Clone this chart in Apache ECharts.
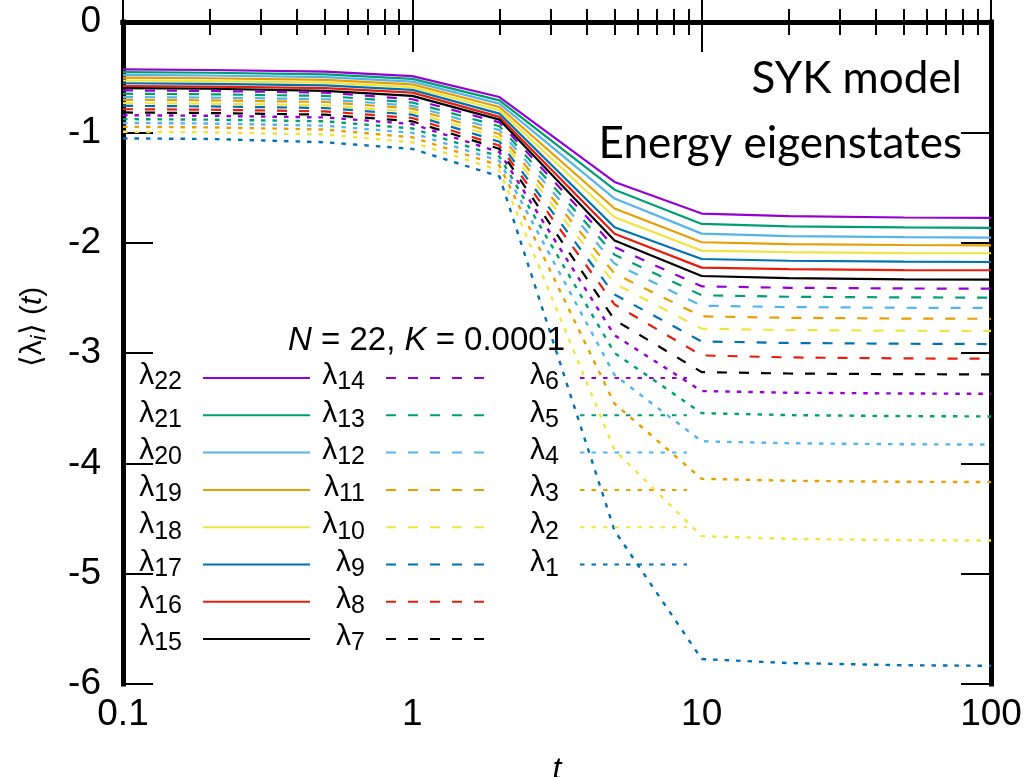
<!DOCTYPE html>
<html>
<head>
<meta charset="utf-8">
<title>SYK model – Lyapunov spectrum</title>
<script src="https://cdn.jsdelivr.net/npm/echarts@6/dist/echarts.min.js"></script>
<style>
  html, body { margin: 0; padding: 0; background: #ffffff; }
  #chart { width: 1029px; height: 777px; }
</style>
</head>
<body>
<div id="chart"></div>
<script>
// Sampling times of the averaged exponents <lambda_i>(t)
const times = [0.1, 0.2, 0.5, 1, 2, 5, 10, 20, 50, 100];

// Largest eight exponents (solid)
const lam22 = [-0.43, -0.435, -0.45, -0.49, -0.68, -1.45, -1.736, -1.760, -1.772, -1.776];
const lam21 = [-0.455, -0.46, -0.475, -0.515, -0.71, -1.52, -1.830, -1.852, -1.862, -1.866];
const lam20 = [-0.48, -0.485, -0.50, -0.54, -0.74, -1.60, -1.918, -1.940, -1.950, -1.954];
const lam19 = [-0.505, -0.51, -0.525, -0.565, -0.77, -1.69, -1.996, -2.013, -2.021, -2.024];
const lam18 = [-0.53, -0.535, -0.55, -0.59, -0.80, -1.77, -2.072, -2.086, -2.094, -2.096];
const lam17 = [-0.555, -0.56, -0.575, -0.615, -0.83, -1.86, -2.148, -2.164, -2.172, -2.175];
const lam16 = [-0.58, -0.585, -0.60, -0.64, -0.86, -1.92, -2.226, -2.240, -2.248, -2.250];
const lam15 = [-0.60, -0.605, -0.625, -0.67, -0.885, -1.98, -2.302, -2.322, -2.332, -2.335];
// Middle eight (dashed)
const lam14 = [-0.62, -0.625, -0.64, -0.70, -0.91, -2.04, -2.396, -2.409, -2.415, -2.417];
const lam13 = [-0.65, -0.655, -0.67, -0.73, -0.945, -2.11, -2.477, -2.490, -2.496, -2.498];
const lam12 = [-0.68, -0.685, -0.70, -0.76, -0.98, -2.19, -2.571, -2.584, -2.590, -2.592];
const lam11 = [-0.705, -0.71, -0.725, -0.785, -1.015, -2.28, -2.668, -2.681, -2.688, -2.690];
const lam10 = [-0.735, -0.74, -0.755, -0.815, -1.05, -2.37, -2.780, -2.792, -2.798, -2.800];
const lam9  = [-0.76, -0.765, -0.78, -0.84, -1.085, -2.47, -2.895, -2.909, -2.916, -2.919];
const lam8  = [-0.79, -0.795, -0.81, -0.87, -1.12, -2.56, -3.022, -3.040, -3.049, -3.052];
const lam7  = [-0.82, -0.825, -0.84, -0.90, -1.15, -2.70, -3.173, -3.186, -3.192, -3.194];
// Smallest six (dotted)
const lam6 = [-0.845, -0.85, -0.865, -0.925, -1.18, -2.84, -3.345, -3.360, -3.367, -3.370];
const lam5 = [-0.88, -0.885, -0.90, -0.965, -1.22, -3.00, -3.545, -3.563, -3.572, -3.575];
const lam4 = [-0.915, -0.92, -0.94, -1.005, -1.26, -3.20, -3.800, -3.818, -3.827, -3.830];
const lam3 = [-0.95, -0.955, -0.975, -1.045, -1.30, -3.46, -4.140, -4.158, -4.167, -4.170];
const lam2 = [-0.995, -1.00, -1.02, -1.09, -1.345, -3.88, -4.660, -4.684, -4.697, -4.700];
const lam1 = [-1.055, -1.06, -1.09, -1.15, -1.40, -4.61, -5.774, -5.810, -5.830, -5.835];

// Axis ticks
const xMajorTicks = [0.1, 1, 10, 100];
const xMinorTicks = [0.2, 0.3, 0.4, 0.5, 0.6, 0.7, 0.8, 0.9,
                     2, 3, 4, 5, 6, 7, 8, 9,
                     20, 30, 40, 50, 60, 70, 80, 90];
const yMin = -6, yMax = 0, yStep = 1;

// Legend columns
const legendCol1 = ['λ22', 'λ21', 'λ20', 'λ19', 'λ18', 'λ17', 'λ16', 'λ15'];
const legendCol2 = ['λ14', 'λ13', 'λ12', 'λ11', 'λ10', 'λ9', 'λ8', 'λ7'];
const legendCol3 = ['λ6', 'λ5', 'λ4', 'λ3', 'λ2', 'λ1'];

const curves = [
  ['λ22', lam22], ['λ21', lam21], ['λ20', lam20], ['λ19', lam19],
  ['λ18', lam18], ['λ17', lam17], ['λ16', lam16], ['λ15', lam15],
  ['λ14', lam14], ['λ13', lam13], ['λ12', lam12], ['λ11', lam11],
  ['λ10', lam10], ['λ9', lam9], ['λ8', lam8], ['λ7', lam7],
  ['λ6', lam6], ['λ5', lam5], ['λ4', lam4], ['λ3', lam3],
  ['λ2', lam2], ['λ1', lam1]
];

const palette = ['#9400d3', '#009e73', '#56b4e9', '#e69f00',
                 '#f0e442', '#0072b2', '#e51e10', '#000000'];
const FONT = "'Liberation Sans', Arial, sans-serif";
const ANNOT_FONT = "Lato, 'Open Sans', sans-serif";

function styleFor(index) {
  const k = Number(curves[index][0].slice(1));
  const color = palette[(22 - k) % 8];
  let type = 'solid', width = 2.2;
  if (k <= 14 && k >= 7) { type = [10, 12]; width = 2.2; }
  if (k <= 6) { type = [4.5, 7]; width = 2.4; }
  return { color, type, width };
}

const series = curves.map(function (c, i) {
  const st = styleFor(i);
  return {
    name: c[0],
    type: 'line',
    xAxisIndex: 0,
    yAxisIndex: 0,
    symbol: 'none',
    data: times.map(function (t, j) { return [t, c[1][j]]; }),
    color: st.color,
    lineStyle: { color: st.color, type: st.type, width: st.width },
    emphasis: { disabled: true },
    z: 2
  };
});

const lambdaRich = {
  l: { fontFamily: FONT, fontSize: 30, lineHeight: 34, verticalAlign: 'top', color: '#000' },
  s: { fontFamily: FONT, fontSize: 25, lineHeight: 34, verticalAlign: 'bottom', color: '#000' }
};
function lambdaLabel(name) {
  return '{l|λ}{s|' + name.slice(1) + '}';
}
function makeLegend(names, rightEdge) {
  return {
    data: names,
    orient: 'vertical',
    align: 'right',
    right: 1029 - rightEdge,
    top: 361,
    padding: 0,
    itemWidth: 107,
    itemHeight: 34,
    itemGap: 3.3,
    selectedMode: false,
    itemStyle: { opacity: 0 },
    formatter: lambdaLabel,
    textStyle: { color: '#000', padding: [0, 16, 0, 0], rich: lambdaRich }
  };
}

function xAxisDef(position, ticks, len, withLine, withLabels) {
  return {
    type: 'log',
    logBase: 10,
    min: 0.1,
    max: 100,
    position: position,
    gridIndex: 0,
    axisLine: { show: withLine, lineStyle: { color: '#000', width: 5, cap: 'square' } },
    axisTick: { show: true, inside: true, length: len, customValues: ticks,
                lineStyle: { color: '#000', width: 2 } },
    axisLabel: withLabels ? {
      show: true, customValues: xMajorTicks, margin: 12,
      fontFamily: FONT, fontSize: 37, color: '#000',
      formatter: function (v) { return String(v); }
    } : { show: false },
    splitLine: { show: false },
    minorTick: { show: false },
    name: withLabels ? 't' : '',
    nameLocation: 'middle',
    nameGap: 70,
    nameTextStyle: { fontFamily: FONT, fontSize: 32, fontStyle: 'italic', color: '#000' }
  };
}

function yAxisDef(position, withLabels) {
  return {
    type: 'value',
    min: yMin,
    max: yMax,
    interval: yStep,
    position: position,
    axisLine: { show: true, lineStyle: { color: '#000', width: 5, cap: 'square' } },
    axisTick: { show: true, inside: true, length: 30, lineStyle: { color: '#000', width: 2 } },
    axisLabel: withLabels ? { show: true, margin: 22, fontFamily: FONT, fontSize: 37, color: '#000' }
                          : { show: false },
    splitLine: { show: false },
    name: withLabels ? '{a|⟨λ}{i|i}{a|⟩ (}{t|t}{a|)}' : '',
    nameLocation: 'middle',
    nameRotate: 90,
    nameGap: 72,
    nameTextStyle: {
      padding: [0, 0, 0, 52],
      rich: {
        a: { fontFamily: FONT, fontSize: 30, color: '#000', lineHeight: 36, verticalAlign: 'middle' },
        i: { fontFamily: FONT, fontSize: 22, fontStyle: 'italic', color: '#000', lineHeight: 36, verticalAlign: 'bottom' },
        t: { fontFamily: FONT, fontSize: 30, fontStyle: 'italic', color: '#000', lineHeight: 36, verticalAlign: 'middle' }
      }
    }
  };
}

const chart = echarts.init(document.getElementById('chart'), null, { renderer: 'canvas' });
chart.setOption({
  animation: false,
  backgroundColor: '#ffffff',
  grid: { left: 123, right: 38, top: 22, bottom: 93, containLabel: false, outerBoundsMode: 'none' },
  title: {
    text: '{i|N}{n| = 22, }{i|K}{n| = 0.0001}',
    left: 288,
    top: 324,
    padding: 0,
    textStyle: {
      rich: {
        i: { fontFamily: FONT, fontSize: 33, fontStyle: 'italic', fontWeight: 'normal', color: '#000' },
        n: { fontFamily: FONT, fontSize: 33, fontWeight: 'normal', color: '#000' }
      }
    }
  },
  legend: [
    makeLegend(legendCol1, 311),
    makeLegend(legendCol2, 494),
    makeLegend(legendCol3, 688)
  ],
  xAxis: [
    xAxisDef('bottom', xMajorTicks, 30, true, true),
    xAxisDef('bottom', xMinorTicks, 13, false, false),
    xAxisDef('top', xMajorTicks, 30, true, false),
    xAxisDef('top', xMinorTicks, 13, false, false)
  ],
  yAxis: [
    yAxisDef('left', true),
    yAxisDef('right', false)
  ],
  graphic: [{
    type: 'text',
    right: 67,
    top: 57,
    z: 10,
    style: { text: 'SYK model', font: '44px ' + ANNOT_FONT, fill: '#000' }
  }, {
    type: 'text',
    right: 67,
    top: 122,
    z: 10,
    style: { text: 'Energy eigenstates', font: '44px ' + ANNOT_FONT, fill: '#000' }
  }],
  series: series
});
</script>
</body>
</html>
